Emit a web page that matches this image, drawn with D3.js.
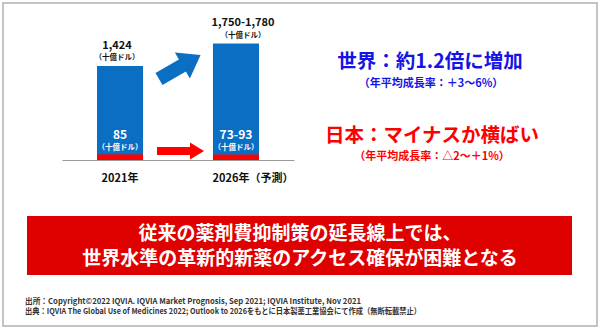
<!DOCTYPE html>
<html><head><meta charset="utf-8">
<script src="https://cdn.jsdelivr.net/npm/d3@7/dist/d3.min.js"></script>
<style>body{margin:0;background:#fff}svg{display:block}text{font-family:"Noto Sans CJK JP","Noto Sans",sans-serif;font-weight:bold}</style>
</head><body>
<svg id="c" width="600" height="330"></svg>
<script>
const categories = ["2021年", "2026年（予測）"];
const worldLow = [1424, 1750];
const worldHigh = [1424, 1780];
const japanLow = [85, 73];
const japanHigh = [85, 93];
const worldLabels = ["1,424", "1,750-1,780"];
const japanLabels = ["85", "73-93"];
const unitLabel = "（十億ドル）";
const headline = ["世界：約1.2倍に増加", "（年平均成長率：＋3～6%）"];
const japanLine = ["日本：マイナスか横ばい", "（年平均成長率：△2～＋1%）"];
const message = ["従来の薬剤費抑制策の延長線上では、", "世界水準の革新的新薬のアクセス確保が困難となる"];
const notes = ["出所：Copyright©2022 IQVIA. IQVIA Market Prognosis, Sep 2021; IQVIA Institute, Nov 2021",
               "出典：IQVIA The Global Use of Medicines 2022; Outlook to 2026をもとに日本製薬工業協会にて作成（無断転載禁止）"];

const svg = d3.select("#c");
const BLUE = "#0a6fc2", RED = "#ff0000";

svg.append("rect").attr("x", 3).attr("y", 3).attr("width", 594).attr("height", 323)
  .attr("fill", "#fff").attr("stroke", "#b0b0b0").attr("stroke-width", 1.5);

const x = d3.scaleBand().domain(categories).range([62, 294]).paddingInner(0.603).paddingOuter(0.302);
const y = d3.scaleLinear().domain([0, 2000]).range([160, 28]);
const mid = (a, b) => (a + b) / 2;
const worldVal = worldLow.map((v, i) => mid(v, worldHigh[i]));
const japanVal = japanLow.map((v, i) => mid(v, japanHigh[i]));

const g = svg.append("g");
g.selectAll("rect.w").data(categories).join("rect").attr("class", "w")
  .attr("x", d => x(d)).attr("width", x.bandwidth())
  .attr("y", (d, i) => y(worldVal[i])).attr("height", (d, i) => y(0) - y(worldVal[i]))
  .attr("fill", BLUE);
g.selectAll("rect.j").data(categories).join("rect").attr("class", "j")
  .attr("x", d => x(d)).attr("width", x.bandwidth())
  .attr("y", (d, i) => y(japanVal[i])).attr("height", (d, i) => y(0) - y(japanVal[i]))
  .attr("fill", RED);

// baseline axis
const axis = d3.axisBottom(x).tickSize(0).tickPadding(14);
const ax = svg.append("g").attr("transform", `translate(0,${y(0)})`).call(axis);
ax.select(".domain").attr("stroke", "#9a9a9a").attr("stroke-width", 1);
ax.selectAll(".tick text").attr("font-size", 11).attr("fill", "#111")
  .attr("font-family", '"Noto Sans CJK JP",sans-serif').attr("font-weight", "bold")
  .attr("dx", (d, i) => i === 0 ? 0 : 17);

// value labels
const cx = d => x(d) + x.bandwidth() / 2;
const topOff = [-3, 7];
categories.forEach((c, i) => {
  const ty = y(worldVal[i]);
  svg.append("text").attr("x", cx(c) + topOff[i]).attr("y", ty - 17.5).attr("text-anchor", "middle")
    .attr("font-size", 11).attr("fill", "#111").text(worldLabels[i]);
  svg.append("text").attr("x", cx(c) + topOff[i]).attr("y", ty - 6).attr("text-anchor", "middle")
    .attr("font-size", 7.5).attr("fill", "#111").text(unitLabel);
  svg.append("text").attr("x", cx(c)).attr("y", y(japanVal[i]) - 15.5).attr("text-anchor", "middle")
    .attr("font-size", 12).attr("fill", "#fff").text(japanLabels[i]);
  svg.append("text").attr("x", cx(c)).attr("y", y(japanVal[i]) - 4.5).attr("text-anchor", "middle")
    .attr("font-size", 7.5).attr("fill", "#fff").text(unitLabel);
});

// arrows
const arrowShape = "M0,-7 L27,-7 L27,-15 L48,0 L27,15 L27,7 L0,7 Z";
svg.append("path").attr("d", arrowShape).attr("fill", BLUE)
  .attr("transform", "translate(159,79) rotate(-30)");
svg.append("path").attr("d", "M0,-4 L33,-4 L33,-8.5 L47,0 L33,8.5 L33,4 L0,4 Z").attr("fill", RED)
  .attr("transform", "translate(157,151)");

// right texts
svg.append("text").attr("x", 430).attr("y", 68).attr("text-anchor", "middle")
  .attr("font-size", 19.5).attr("fill", "#1414e6").text(headline[0]);
svg.append("text").attr("x", 431).attr("y", 87).attr("text-anchor", "middle")
  .attr("font-size", 11).attr("fill", "#1414e6").text(headline[1]);
svg.append("text").attr("x", 432).attr("y", 142).attr("text-anchor", "middle")
  .attr("font-size", 19.5).attr("fill", RED).text(japanLine[0]);
svg.append("text").attr("x", 432).attr("y", 160).attr("text-anchor", "middle")
  .attr("font-size", 11).attr("fill", RED).text(japanLine[1]);

// message box
svg.append("rect").attr("x", 27).attr("y", 216).attr("width", 545).attr("height", 59).attr("fill", "#df0000");
message.forEach((t, i) => {
  svg.append("text").attr("x", 300).attr("y", 240 + i * 25).attr("text-anchor", "middle")
    .attr("font-size", 19).attr("fill", "#fff").text(t);
});

// notes
const noteLen = [336, 396];
notes.forEach((t, i) => {
  svg.append("text").attr("x", 25).attr("y", 304 + i * 10).attr("font-size", 8)
    .attr("font-weight", "normal").attr("fill", "#333")
    .attr("textLength", noteLen[i]).attr("lengthAdjust", "spacingAndGlyphs").text(t);
});
</script>
</body></html>
